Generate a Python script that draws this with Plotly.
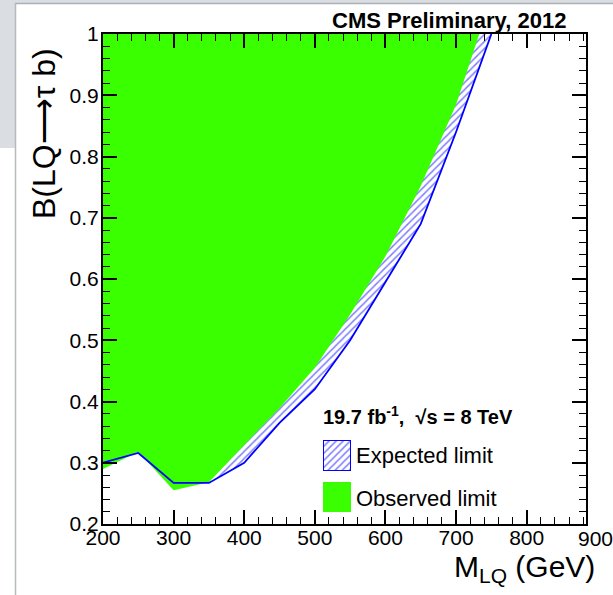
import plotly.graph_objects as go

# ---------------- data ----------------
MASS = [200, 250, 300, 350, 400, 450, 500, 550, 600, 650, 700, 750]
EXPECTED = [0.300, 0.316, 0.267, 0.267, 0.300, 0.365, 0.420, 0.500, 0.595, 0.690, 0.840, 1.000]
OBSERVED = [0.290, 0.318, 0.255, 0.268, 0.329, 0.389, 0.455, 0.542, 0.637, 0.752, 0.885, 1.060]
X_TICKS = [200, 300, 400, 500, 600, 700, 800, 900]
Y_TICKS = [0.2, 0.3, 0.4, 0.5, 0.6, 0.7, 0.8, 0.9, 1.0]
Y_TICKTEXT = ["0.2", "0.3", "0.4", "0.5", "0.6", "0.7", "0.8", "0.9", "1"]
X_RANGE = [200, 884]
Y_RANGE = [0.2, 1.0]

# ---------------- layout geometry (pixels) ----------------
W, H = 613, 595
PL, PR, PT, PB = 103, 586, 34, 524
FONT = "Liberation Sans, Arial, Helvetica, sans-serif"
GREEN = "#39ff00"
BLUE = "#0000ff"


def px_x(px):
    return (px - PL) / (PR - PL)


def px_y(py):
    return (PB - py) / (PB - PT)


ceiling = [Y_RANGE[1]] * len(MASS)
hatch = dict(shape="/", fgcolor=BLUE, bgcolor="white", size=5, solidity=0.3)

fig = go.Figure()

# expected: hatched region from the top down to expected curve
fig.add_trace(go.Scatter(x=MASS, y=ceiling, mode="lines", line=dict(width=0),
                         showlegend=False, hoverinfo="skip"))
fig.add_trace(go.Scatter(x=MASS, y=EXPECTED, mode="lines", line=dict(width=0),
                         fill="tonexty", fillcolor="white", fillpattern=hatch,
                         showlegend=False, hoverinfo="skip"))
# observed: green region from the top down to observed curve
fig.add_trace(go.Scatter(x=MASS, y=ceiling, mode="lines", line=dict(width=0),
                         showlegend=False, hoverinfo="skip"))
fig.add_trace(go.Scatter(x=MASS, y=OBSERVED, mode="lines", line=dict(width=0),
                         fill="tonexty", fillcolor=GREEN,
                         showlegend=False, hoverinfo="skip"))
# expected limit line
fig.add_trace(go.Scatter(x=MASS, y=EXPECTED, mode="lines",
                         line=dict(color=BLUE, width=1.8),
                         showlegend=False, hoverinfo="skip"))

# legend swatches in small inset axes
SQ_X = [0, 1, 1, 0, 0]
SQ_Y = [0, 0, 1, 1, 0]
fig.add_trace(go.Scatter(x=SQ_X, y=SQ_Y, xaxis="x2", yaxis="y2", mode="lines",
                         line=dict(color=BLUE, width=2), fill="toself", fillcolor="white",
                         fillpattern=hatch, showlegend=False, hoverinfo="skip"))
fig.add_trace(go.Scatter(x=SQ_X, y=SQ_Y, xaxis="x3", yaxis="y3", mode="lines",
                         line=dict(color=GREEN, width=1), fill="toself", fillcolor=GREEN,
                         showlegend=False, hoverinfo="skip"))

axis_common = dict(showgrid=False, zeroline=False, showline=True, linecolor="black",
                   linewidth=2, mirror="ticks", ticks="inside", tickcolor="black",
                   tickwidth=1.5, ticklen=14,
                   tickfont=dict(family=FONT, size=21, color="black"))

inset = dict(range=[0, 1], visible=False, fixedrange=True)

fig.update_layout(
    width=W, height=H, autosize=False,
    margin=dict(l=PL, r=W - PR, t=PT, b=H - PB, pad=0),
    paper_bgcolor="white", plot_bgcolor="white",
    showlegend=False,
    xaxis=dict(range=X_RANGE, tickvals=X_TICKS, ticklabelstandoff=-6,
               minor=dict(ticks="inside", ticklen=7, dtick=20, tickcolor="black", tickwidth=1.2),
               **axis_common),
    yaxis=dict(range=Y_RANGE, tickvals=Y_TICKS, ticktext=Y_TICKTEXT, ticklabelstandoff=-2,
               minor=dict(ticks="inside", ticklen=7, dtick=0.02, tickcolor="black", tickwidth=1.2),
               **axis_common),
    xaxis2=dict(domain=[px_x(323), px_x(351)], anchor="y2", **inset),
    yaxis2=dict(domain=[px_y(471), px_y(440)], anchor="x2", **inset),
    xaxis3=dict(domain=[px_x(323), px_x(351)], anchor="y3", **inset),
    yaxis3=dict(domain=[px_y(512), px_y(482)], anchor="x3", **inset),
)

# tick labels beyond the drawn range (ROOT prints the 900 label past the frame)
for xv in X_TICKS:
    if xv > X_RANGE[1]:
        fig.add_annotation(x=px_x(595), y=px_y(538),
                           xref="paper", yref="paper", text=str(xv), showarrow=False,
                           xanchor="center", yanchor="middle",
                           font=dict(family=FONT, size=21, color="black"))

ann = [
    dict(text="<b>CMS Preliminary, 2012</b>", x=px_x(568), y=px_y(21), xanchor="right",
         yanchor="middle", size=22),
    dict(text="<b>19.7 fb<sup>-1</sup>,  √s = 8 TeV</b>", x=px_x(321), y=px_y(415),
         xanchor="left", yanchor="middle", size=20),
    dict(text="Expected limit", x=px_x(354), y=px_y(455), xanchor="left",
         yanchor="middle", size=22),
    dict(text="Observed limit", x=px_x(354), y=px_y(498), xanchor="left",
         yanchor="middle", size=22),
    dict(text="M<sub>LQ</sub> (GeV)", x=px_x(597), y=px_y(568), xanchor="right",
         yanchor="middle", size=30),
]
for a in ann:
    fig.add_annotation(text=a["text"], x=a["x"], y=a["y"], xref="paper", yref="paper",
                       xanchor=a["xanchor"], yanchor=a["yanchor"], showarrow=False,
                       font=dict(family=FONT, size=a["size"], color="black"))

fig.add_annotation(text="B(LQ⟶τ b)", x=px_x(44), y=px_y(134), xref="paper", yref="paper",
                   textangle=-90, showarrow=False, xanchor="center", yanchor="middle",
                   font=dict(family=FONT, size=32, color="black"))

# page chrome (grey strips of the screenshot)
fig.add_shape(type="rect", xref="paper", yref="paper", x0=px_x(0), x1=px_x(W),
              y0=px_y(0), y1=px_y(3), fillcolor="#dadde2", line=dict(width=0), layer="below")
fig.add_shape(type="rect", xref="paper", yref="paper", x0=px_x(0), x1=px_x(15),
              y0=px_y(0), y1=px_y(148), fillcolor="#dadde2", line=dict(width=0), layer="below")
fig.add_shape(type="line", xref="paper", yref="paper", x0=px_x(15), x1=px_x(W),
              y0=px_y(3.5), y1=px_y(3.5), line=dict(color="#aab0b3", width=1.5), layer="below")
fig.add_shape(type="line", xref="paper", yref="paper", x0=px_x(15.5), x1=px_x(15.5),
              y0=px_y(3), y1=px_y(H), line=dict(color="#b5babd", width=1.5), layer="below")

fig.write_html("out.html")
